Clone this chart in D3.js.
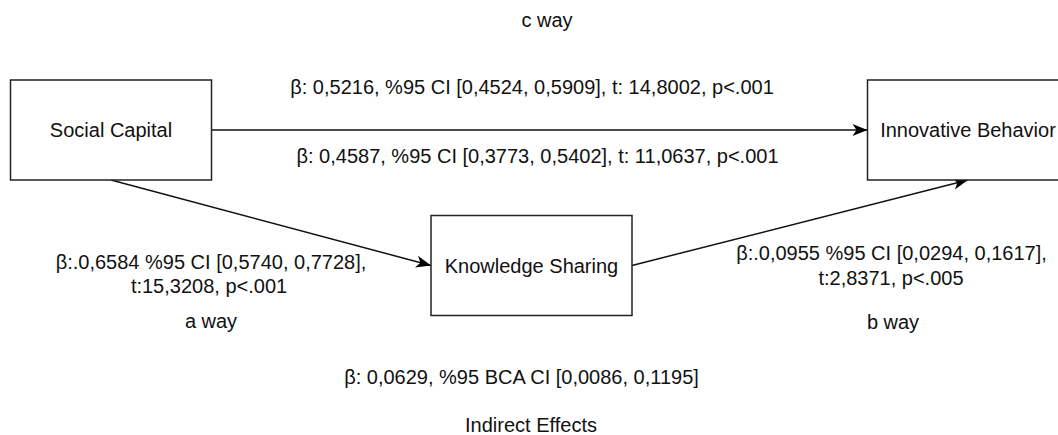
<!DOCTYPE html>
<html>
<head>
<meta charset="utf-8">
<script src="https://cdn.jsdelivr.net/npm/d3@7"></script>
<style>
  body { margin: 0; background: #fff; }
  svg { display: block; font-family: "Liberation Sans", Arial, Helvetica, sans-serif; }
  text { fill: #111; font-size: 20px; }
</style>
</head>
<body>
<svg width="1058" height="435"></svg>
<script>
// variables (boxes)
const nodeNames = ['Social Capital', 'Knowledge Sharing', 'Innovative Behavior'];

// paths between them
const pathNames = ['a way', 'b way', 'c way'];
const pathFrom = ['Social Capital', 'Knowledge Sharing', 'Social Capital'];
const pathTo = ['Knowledge Sharing', 'Innovative Behavior', 'Innovative Behavior'];

// coefficient texts as printed on the figure
const aStats = ['β:.0,6584 %95 CI [0,5740, 0,7728],', 't:15,3208, p<.001'];
const bStats = ['β:.0,0955 %95 CI [0,0294, 0,1617],', 't:2,8371, p<.005'];
const totalStats = 'β: 0,5216, %95 CI [0,4524, 0,5909], t: 14,8002, p<.001';
const directStats = 'β: 0,4587, %95 CI [0,3773, 0,5402], t: 11,0637, p<.001';
const indirectStats = 'β: 0,0629, %95 BCA CI [0,0086, 0,1195]';
const indirectTitle = 'Indirect Effects';

const svg = d3.select('svg');
const width = +svg.attr('width');
const height = +svg.attr('height');

// layout of the diagram
const boxW = 201;
const boxH = 100;
const centers = {
  'Social Capital': [111, 130],
  'Knowledge Sharing': [531.5, 265.5],
  'Innovative Behavior': [968, 130]
};

const nodes = nodeNames.map(name => ({
  name,
  cx: centers[name][0],
  cy: centers[name][1]
}));
const byName = new Map(nodes.map(d => [d.name, d]));

// which side of each box a path leaves / enters
const anchor = (n, side) => {
  if (side === 'right') return [n.cx + boxW / 2, n.cy];
  if (side === 'left') return [n.cx - boxW / 2, n.cy];
  if (side === 'bottom') return [n.cx, n.cy + boxH / 2];
  return [n.cx, n.cy - boxH / 2];
};
const sides = [['bottom', 'left'], ['right', 'bottom'], ['right', 'left']];

const links = pathNames.map((name, i) => ({
  name,
  source: anchor(byName.get(pathFrom[i]), sides[i][0]),
  target: anchor(byName.get(pathTo[i]), sides[i][1])
}));

svg.append('defs').append('marker')
  .attr('id', 'arrow')
  .attr('markerUnits', 'userSpaceOnUse')
  .attr('viewBox', '-16 -7 17 14')
  .attr('markerWidth', 17)
  .attr('markerHeight', 14)
  .attr('refX', 0)
  .attr('refY', 0)
  .attr('orient', 'auto')
  .append('path')
  .attr('d', 'M0,0 L-15,-6 L-11,0 L-15,6 Z')
  .attr('fill', '#000');

const line = d3.line();

svg.append('g')
  .selectAll('path')
  .data(links)
  .join('path')
  .attr('d', d => line([d.source, d.target]))
  .attr('fill', 'none')
  .attr('stroke', '#111')
  .attr('stroke-width', 1.5)
  .attr('marker-end', 'url(#arrow)');

const box = svg.append('g')
  .selectAll('g')
  .data(nodes)
  .join('g')
  .attr('transform', d => `translate(${d.cx}, ${d.cy})`);

box.append('rect')
  .attr('x', -boxW / 2)
  .attr('y', -boxH / 2)
  .attr('width', boxW)
  .attr('height', boxH)
  .attr('fill', '#fff')
  .attr('stroke', '#222')
  .attr('stroke-width', 1.5);

box.append('text')
  .attr('text-anchor', 'middle')
  .attr('y', 7)
  .text(d => d.name);

// free labels: [text, x, baseline]
const labels = [
  [pathNames[2], 547, 27],
  [totalStats, 532, 94],
  [directStats, 537.5, 163],
  [aStats[0], 211, 269],
  [aStats[1], 209, 293],
  [pathNames[0], 211, 328],
  [bStats[0], 891.5, 260],
  [bStats[1], 891, 285],
  [pathNames[1], 893, 329],
  [indirectStats, 521.5, 384],
  [indirectTitle, 531, 432]
];

svg.append('g')
  .selectAll('text')
  .data(labels)
  .join('text')
  .attr('text-anchor', 'middle')
  .attr('x', d => d[1])
  .attr('y', d => d[2])
  .text(d => d[0]);
</script>
</body>
</html>
